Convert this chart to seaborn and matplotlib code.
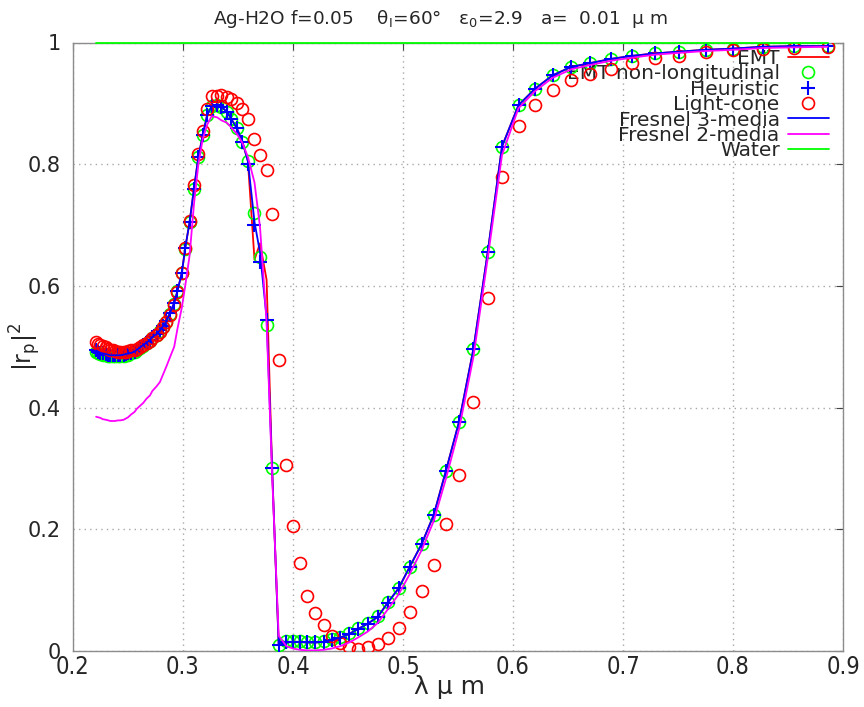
import matplotlib
matplotlib.use("Agg")
import matplotlib.pyplot as plt
import seaborn as sns
from matplotlib.ticker import FixedLocator, FixedFormatter

# ---------------- data ----------------
lam = [0.221, 0.223, 0.225, 0.227, 0.230, 0.232, 0.234, 0.236, 0.238, 0.241,
       0.243, 0.246, 0.248, 0.250, 0.253, 0.256, 0.258, 0.261, 0.264, 0.267,
       0.270, 0.272, 0.276, 0.279, 0.282, 0.285, 0.288, 0.292, 0.295, 0.299,
       0.302, 0.306, 0.310, 0.314, 0.318, 0.322, 0.326, 0.331, 0.335, 0.340,
       0.344, 0.349, 0.354, 0.359, 0.365, 0.370, 0.376, 0.381, 0.387, 0.394,
       0.400, 0.406, 0.413, 0.420, 0.428, 0.435, 0.443, 0.451, 0.459, 0.468,
       0.477, 0.486, 0.496, 0.506, 0.517, 0.528, 0.539, 0.551, 0.564, 0.577,
       0.590, 0.605, 0.620, 0.636, 0.653, 0.670, 0.689, 0.708, 0.729, 0.751,
       0.775, 0.800, 0.827, 0.855, 0.886]

emt = [0.494, 0.492, 0.490, 0.489, 0.488, 0.487, 0.486, 0.486, 0.486, 0.486,
       0.486, 0.487, 0.488, 0.489, 0.490, 0.492, 0.495, 0.499, 0.503, 0.507,
       0.511, 0.516, 0.521, 0.527, 0.534, 0.542, 0.555, 0.572, 0.592, 0.622,
       0.662, 0.705, 0.760, 0.812, 0.848, 0.881, 0.895, 0.897, 0.894, 0.886,
       0.874, 0.859, 0.837, 0.805, 0.643, 0.670, 0.610, 0.300, 0.010, 0.014,
       0.015, 0.015, 0.014, 0.014, 0.015, 0.018, 0.022, 0.028, 0.036, 0.045,
       0.056, 0.079, 0.103, 0.138, 0.176, 0.224, 0.296, 0.377, 0.496, 0.655,
       0.829, 0.897, 0.924, 0.946, 0.960, 0.966, 0.973, 0.978, 0.982, 0.985,
       0.988, 0.990, 0.993, 0.994, 0.994]

emt_nonlong = [0.492, 0.490, 0.488, 0.487, 0.486, 0.485, 0.484, 0.484, 0.484, 0.484,
               0.484, 0.485, 0.486, 0.487, 0.489, 0.491, 0.494, 0.498, 0.502, 0.506,
               0.510, 0.515, 0.520, 0.526, 0.533, 0.541, 0.554, 0.571, 0.591, 0.621,
               0.661, 0.705, 0.760, 0.812, 0.848, 0.881, 0.895, 0.897, 0.894, 0.886,
               0.874, 0.859, 0.837, 0.805, 0.720, 0.647, 0.536, 0.300, 0.010, 0.016,
               0.017, 0.016, 0.015, 0.015, 0.016, 0.019, 0.023, 0.029, 0.037, 0.046,
               0.057, 0.080, 0.104, 0.138, 0.176, 0.224, 0.296, 0.377, 0.496, 0.655,
               0.829, 0.897, 0.924, 0.946, 0.960, 0.966, 0.973, 0.978, 0.982, 0.985,
               0.988, 0.990, 0.993, 0.994, 0.994]

heuristic = [0.494, 0.492, 0.490, 0.489, 0.488, 0.487, 0.486, 0.486, 0.486, 0.486,
             0.486, 0.487, 0.488, 0.489, 0.490, 0.492, 0.495, 0.499, 0.503, 0.507,
             0.511, 0.516, 0.521, 0.527, 0.534, 0.542, 0.555, 0.572, 0.592, 0.622,
             0.662, 0.705, 0.760, 0.812, 0.848, 0.881, 0.895, 0.897, 0.894, 0.886,
             0.874, 0.859, 0.837, 0.800, 0.700, 0.640, 0.544, 0.300, 0.010, 0.014,
             0.015, 0.015, 0.014, 0.014, 0.015, 0.018, 0.022, 0.028, 0.036, 0.045,
             0.056, 0.079, 0.103, 0.138, 0.176, 0.224, 0.296, 0.377, 0.496, 0.655,
             0.829, 0.897, 0.924, 0.946, 0.960, 0.966, 0.973, 0.978, 0.982, 0.985,
             0.988, 0.990, 0.993, 0.994, 0.994]

light_cone = [0.507, 0.505, 0.503, 0.501, 0.499, 0.497, 0.495, 0.494, 0.493, 0.492,
              0.492, 0.492, 0.492, 0.493, 0.494, 0.495, 0.497, 0.500, 0.503, 0.506,
              0.510, 0.514, 0.519, 0.525, 0.532, 0.540, 0.552, 0.568, 0.590, 0.622,
              0.662, 0.706, 0.766, 0.817, 0.855, 0.890, 0.912, 0.912, 0.914, 0.911,
              0.907, 0.900, 0.890, 0.875, 0.841, 0.815, 0.790, 0.718, 0.479, 0.305,
              0.205, 0.145, 0.090, 0.063, 0.043, 0.025, 0.013, 0.007, 0.004, 0.006,
              0.011, 0.021, 0.037, 0.064, 0.098, 0.141, 0.208, 0.289, 0.410, 0.580,
              0.779, 0.862, 0.897, 0.922, 0.938, 0.949, 0.957, 0.967, 0.974, 0.977,
              0.985, 0.988, 0.989, 0.991, 0.993]

fresnel3 = [0.494, 0.492, 0.490, 0.489, 0.488, 0.487, 0.486, 0.486, 0.486, 0.486,
            0.486, 0.487, 0.488, 0.489, 0.490, 0.492, 0.495, 0.499, 0.503, 0.507,
            0.511, 0.516, 0.521, 0.527, 0.534, 0.542, 0.555, 0.572, 0.592, 0.622,
            0.662, 0.705, 0.760, 0.812, 0.848, 0.881, 0.895, 0.897, 0.894, 0.886,
            0.874, 0.859, 0.837, 0.805, 0.705, 0.655, 0.548, 0.300, 0.010, 0.014,
            0.015, 0.015, 0.014, 0.014, 0.015, 0.018, 0.022, 0.028, 0.036, 0.045,
            0.056, 0.079, 0.103, 0.138, 0.176, 0.224, 0.296, 0.377, 0.496, 0.655,
            0.829, 0.897, 0.924, 0.946, 0.960, 0.966, 0.973, 0.978, 0.982, 0.985,
            0.988, 0.990, 0.993, 0.994, 0.994]

fresnel2 = [0.385, 0.384, 0.383, 0.381, 0.380, 0.379, 0.378, 0.378, 0.378, 0.379,
            0.379, 0.380, 0.382, 0.384, 0.389, 0.393, 0.398, 0.403, 0.408, 0.415,
            0.420, 0.427, 0.435, 0.442, 0.455, 0.468, 0.482, 0.500, 0.530, 0.565,
            0.600, 0.650, 0.735, 0.800, 0.842, 0.865, 0.879, 0.877, 0.872, 0.868,
            0.860, 0.850, 0.835, 0.812, 0.770, 0.697, 0.540, 0.290, 0.025, 0.008,
            0.004, 0.002, 0.001, 0.001, 0.002, 0.004, 0.008, 0.014, 0.022, 0.032,
            0.046, 0.068, 0.093, 0.126, 0.166, 0.214, 0.283, 0.365, 0.483, 0.645,
            0.815, 0.892, 0.920, 0.942, 0.956, 0.963, 0.970, 0.975, 0.980, 0.983,
            0.986, 0.988, 0.991, 0.992, 0.993]

water_x = [0.221, 0.886]
water_y = [1.0, 1.0]

labels = ["EMT", "EMT non-longitudinal", "Heuristic", "Light-cone",
          "Fresnel 3-media", "Fresnel 2-media", "Water"]
xticks = [0.2, 0.3, 0.4, 0.5, 0.6, 0.7, 0.8, 0.9]
xticklabels = ["0.2", "0.3", "0.4", "0.5", "0.6", "0.7", "0.8", "0.9"]
yticks = [0, 0.2, 0.4, 0.6, 0.8, 1.0]
yticklabels = ["0", "0.2", "0.4", "0.6", "0.8", "1"]

# ---------------- figure ----------------
sns.set_style("white")
plt.rcParams["font.family"] = ["DejaVu Sans"]
plt.rcParams["mathtext.fontset"] = "dejavusans"

fig = plt.figure(figsize=(8.64, 7.07), dpi=100)
ax = fig.add_axes([73 / 864, 1 - 651 / 707, 770 / 864, 608.5 / 707])

common = dict(ax=ax, estimator=None, sort=False, legend=False)
sns.lineplot(x=lam, y=emt, color="#ff0000", lw=1.3, zorder=3, **common)
sns.lineplot(x=lam, y=emt_nonlong, color="#00ff00", linestyle="none", marker="o",
             markersize=8.6, markerfacecolor="none", markeredgecolor="#00ff00",
             markeredgewidth=1.2, zorder=4, **common)
sns.lineplot(x=lam, y=heuristic, color="#0000ff", linestyle="none", marker="+",
             markersize=10, markeredgecolor="#0000ff", markeredgewidth=1.5,
             zorder=5, **common)
sns.lineplot(x=lam, y=light_cone, color="#ff0000", linestyle="none", marker="o",
             markersize=8.6, markerfacecolor="none", markeredgecolor="#ff0000",
             markeredgewidth=1.2, zorder=6, **common)
sns.lineplot(x=lam, y=fresnel3, color="#0000ff", lw=1.3, zorder=7, **common)
sns.lineplot(x=lam, y=fresnel2, color="#ff00ff", lw=1.3, zorder=8, **common)
sns.lineplot(x=water_x, y=water_y, color="#00ff00", lw=1.3, zorder=9,
             clip_on=False, **common)

ax.set_xlim(0.2, 0.9)
ax.set_ylim(0, 1)
ax.xaxis.set_major_locator(FixedLocator(xticks))
ax.xaxis.set_major_formatter(FixedFormatter(xticklabels))
ax.yaxis.set_major_locator(FixedLocator(yticks))
ax.yaxis.set_major_formatter(FixedFormatter(yticklabels))
ax.tick_params(axis="both", direction="in", length=5, width=0.8, color="#444444",
               top=True, right=True)
ax.tick_params(axis="y", pad=9, labelsize=15)
ax.tick_params(axis="x", pad=3, labelsize=17)
for lbl in ax.get_xticklabels():
    lbl.set_fontstretch("condensed")

ax.grid(True, color="#a8a8a8", linestyle=(0, (1, 3)), linewidth=1.0)
ax.set_axisbelow(True)
for s in ax.spines.values():
    s.set_color("#8c8c8c")
    s.set_linewidth(1.0)

ax.set_xlabel("λ μ m", fontsize=18)
ax.xaxis.set_label_coords((450 - 73) / 770, (651 - 675) / 608.5)
ax.set_ylabel(r"|r$_\mathregular{p}$|$^\mathregular{2}$", fontsize=17)
ax.yaxis.set_label_coords((43 - 73) / 770, 0.5)

fig.text(440 / 864, 1 - 19 / 707,
         r"Ag-H2O f=0.05    θ$_\mathregular{I}$=60°   ε$_\mathregular{0}$=2.9   a=  0.01  μ m",
         ha="center", va="center", fontsize=13.3)

handles = list(ax.lines)
leg = ax.legend(handles, labels, loc="upper right",
                bbox_to_anchor=((829 - 73) / 770, (651 - 49) / 608.5),
                markerfirst=False, frameon=False, fontsize=14.5,
                labelspacing=-0.18, handlelength=2.05, handletextpad=0.4,
                borderaxespad=0, borderpad=0)
leg.set_zorder(2.5)

fig.savefig("out.png", dpi=100)
